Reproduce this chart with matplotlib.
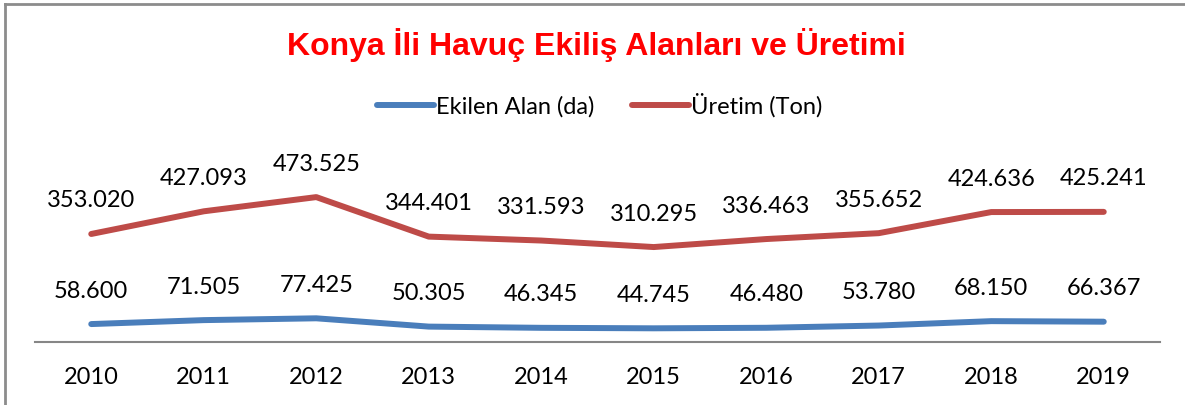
import matplotlib.pyplot as plt
from matplotlib.lines import Line2D

years = ['2010', '2011', '2012', '2013', '2014', '2015', '2016', '2017', '2018', '2019']
ekilen_alan = [58600, 71505, 77425, 50305, 46345, 44745, 46480, 53780, 68150, 66367]
uretim = [353020, 427093, 473525, 344401, 331593, 310295, 336463, 355652, 424636, 425241]

ekilen_labels = ['58.600', '71.505', '77.425', '50.305', '46.345', '44.745', '46.480', '53.780', '68.150', '66.367']
uretim_labels = ['353.020', '427.093', '473.525', '344.401', '331.593', '310.295', '336.463', '355.652', '424.636', '425.241']

blue = '#4A7EBB'
red = '#BE4B48'
plt.rcParams['font.family'] = ['Lato', 'DejaVu Sans']

W, H = 1185, 405
fig = plt.figure(figsize=(W / 100, H / 100), dpi=100)
# axes: x from 35 to 1160 px, y=0 at 342 px, top at 36 px
ax = fig.add_axes([35 / W, (H - 342) / H, 1125 / W, 306 / H])
ax.patch.set_alpha(0)
x = range(len(years))
ax.plot(x, ekilen_alan, color=blue, lw=4.3, solid_capstyle='round', label='Ekilen Alan (da)')
ax.plot(x, uretim, color=red, lw=4.3, solid_capstyle='round', label='Üretim (Ton)')

for i in x:
    ax.annotate(ekilen_labels[i], (i, ekilen_alan[i]), xytext=(0, 33), textcoords='offset pixels',
                ha='center', va='center', fontsize=17, color='black')
    ax.annotate(uretim_labels[i], (i, uretim[i]), xytext=(0, 33), textcoords='offset pixels',
                ha='center', va='center', fontsize=17, color='black')

ax.set_xlim(-0.5, len(years) - 0.5)
ax.set_ylim(0, 1000000)
ax.set_xticks(list(x))
ax.set_xticklabels(years, fontsize=17)
ax.tick_params(axis='x', length=0, pad=18)
ax.set_yticks([])
for s in ['top', 'right', 'left']:
    ax.spines[s].set_visible(False)
ax.spines['bottom'].set_color('#868686')
ax.spines['bottom'].set_linewidth(1.5)

fig.text(596 / W, 1 - 45 / H, 'Konya İli Havuç Ekiliş Alanları ve Üretimi', ha='center', va='center',
         fontsize=23, fontweight='bold', color='#FF0000', family=['Liberation Sans', 'DejaVu Sans'])

fig.legend(loc='center', bbox_to_anchor=(600 / W, 1 - 105 / H), ncol=2, frameon=False,
           fontsize=17, handlelength=2.4, handletextpad=0.1, columnspacing=1.6)

# figure border (left and top visible)
fig.add_artist(Line2D([5 / W, 5 / W], [0, 1 - 4 / H], color='#8c8c8c', lw=2, transform=fig.transFigure))
fig.add_artist(Line2D([5 / W, 1], [1 - 4 / H, 1 - 4 / H], color='#8c8c8c', lw=2, transform=fig.transFigure))

fig.savefig('out.png', dpi=100)
